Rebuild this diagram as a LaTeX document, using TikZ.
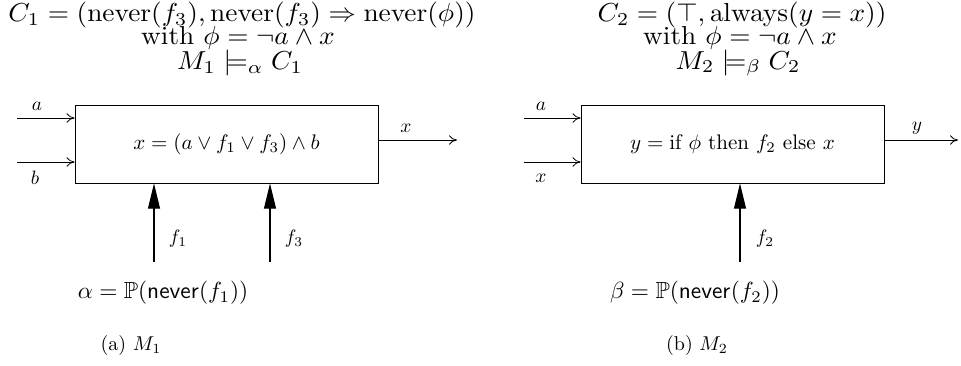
\documentclass[tikz,border=0pt]{standalone}
\usepackage{amssymb}
\usetikzlibrary{arrows.meta}
\begin{document}
\begin{tikzpicture}[x=0.75pt,y=-0.75pt,
  every node/.style={font=\fontsize{10}{12}\selectfont},
  ttl/.style={inner sep=0pt, xscale=2.05, yscale=1.95},
  blk/.style={draw, line width=0.6pt, minimum width=227.25pt, minimum height=58.5pt, inner sep=0pt},
  blktxt/.style={inner sep=0pt, scale=1.58},
  lbl/.style={inner sep=0pt, scale=1.45},
  prob/.style={inner sep=0pt, scale=1.75},
  captxt/.style={inner sep=0pt, scale=1.5},
  sig/.style={line width=0.6pt, -{To[length=6pt,width=7pt]}},
  flt/.style={line width=0.8pt, -{Triangle[length=19pt,width=9pt]}}]
\useasboundingbox (0,0) rectangle (961,365);
% ---------- left panel
\node[ttl] (t1a) at (242,15) {$C_1 = (\mathrm{never}(f_3), \mathrm{never}(f_3) \Rightarrow \mathrm{never}(\phi))$};
\node[ttl] (t1b) at (238,38) {with $\phi = \neg a \wedge x$};
\node[ttl] (t1c) at (240,63) {$M_1 \models_\alpha C_1$};
\node[blk] (box1) at (226.5,144) {};
\node[blktxt] (box1txt) at (box1.center) {$x = (a \vee f_1 \vee f_3) \wedge b$};
\coordinate (ina1) at (17,118);
\coordinate (inb1) at (17,162);
\coordinate (outx1) at (457,140);
\coordinate (f1s) at (154,262);
\coordinate (f3s) at (270,262);
\draw[sig] (ina1) -- (box1.west |- ina1);
\draw[sig] (inb1) -- (box1.west |- inb1);
\draw[sig] (box1.east |- outx1) -- (outx1);
\draw[flt] (f1s) -- (box1.south -| f1s);
\draw[flt] (f3s) -- (box1.south -| f3s);
\node[lbl] (la1) at (37,106) {$a$};
\node[lbl] (lb1) at (35,178) {$b$};
\node[lbl] (lx1) at (406,128) {$x$};
\node[lbl] (lf1) at (178,239) {$f_1$};
\node[lbl] (lf3) at (294,239) {$f_3$};
\node[prob] (alpha) at (163,293) {$\alpha = \mathbb{P}(\mathsf{never}(f_1))$};
\node[captxt] (capa) at (131,345) {(a) $M_1$};
% ---------- right panel
\node[ttl] (t2a) at (742,15) {$C_2 = (\top, \mathrm{always}(y = x))$};
\node[ttl] (t2b) at (740,38) {with $\phi = \neg a \wedge x$};
\node[ttl] (t2c) at (738,63) {$M_2 \models_\beta C_2$};
\node[blk] (box2) at (732.5,144) {};
\node[blktxt] (box2txt) at (box2.center) {$y = {}$if $\phi$ then $f_2$ else $x$};
\coordinate (ina2) at (524,118);
\coordinate (inx2) at (524,162);
\coordinate (outy2) at (958,140);
\coordinate (f2s) at (740,262);
\draw[sig] (ina2) -- (box2.west |- ina2);
\draw[sig] (inx2) -- (box2.west |- inx2);
\draw[sig] (box2.east |- outy2) -- (outy2);
\draw[flt] (f2s) -- (box2.south -| f2s);
\node[lbl] (la2) at (541,106) {$a$};
\node[lbl] (lx2) at (541,178) {$x$};
\node[lbl] (ly2) at (917,128) {$y$};
\node[lbl] (lf2) at (765,239) {$f_2$};
\node[prob] (beta) at (695,293) {$\beta = \mathbb{P}(\mathsf{never}(f_2))$};
\node[captxt] (capb) at (697,345) {(b) $M_2$};
\end{tikzpicture}
\end{document}
